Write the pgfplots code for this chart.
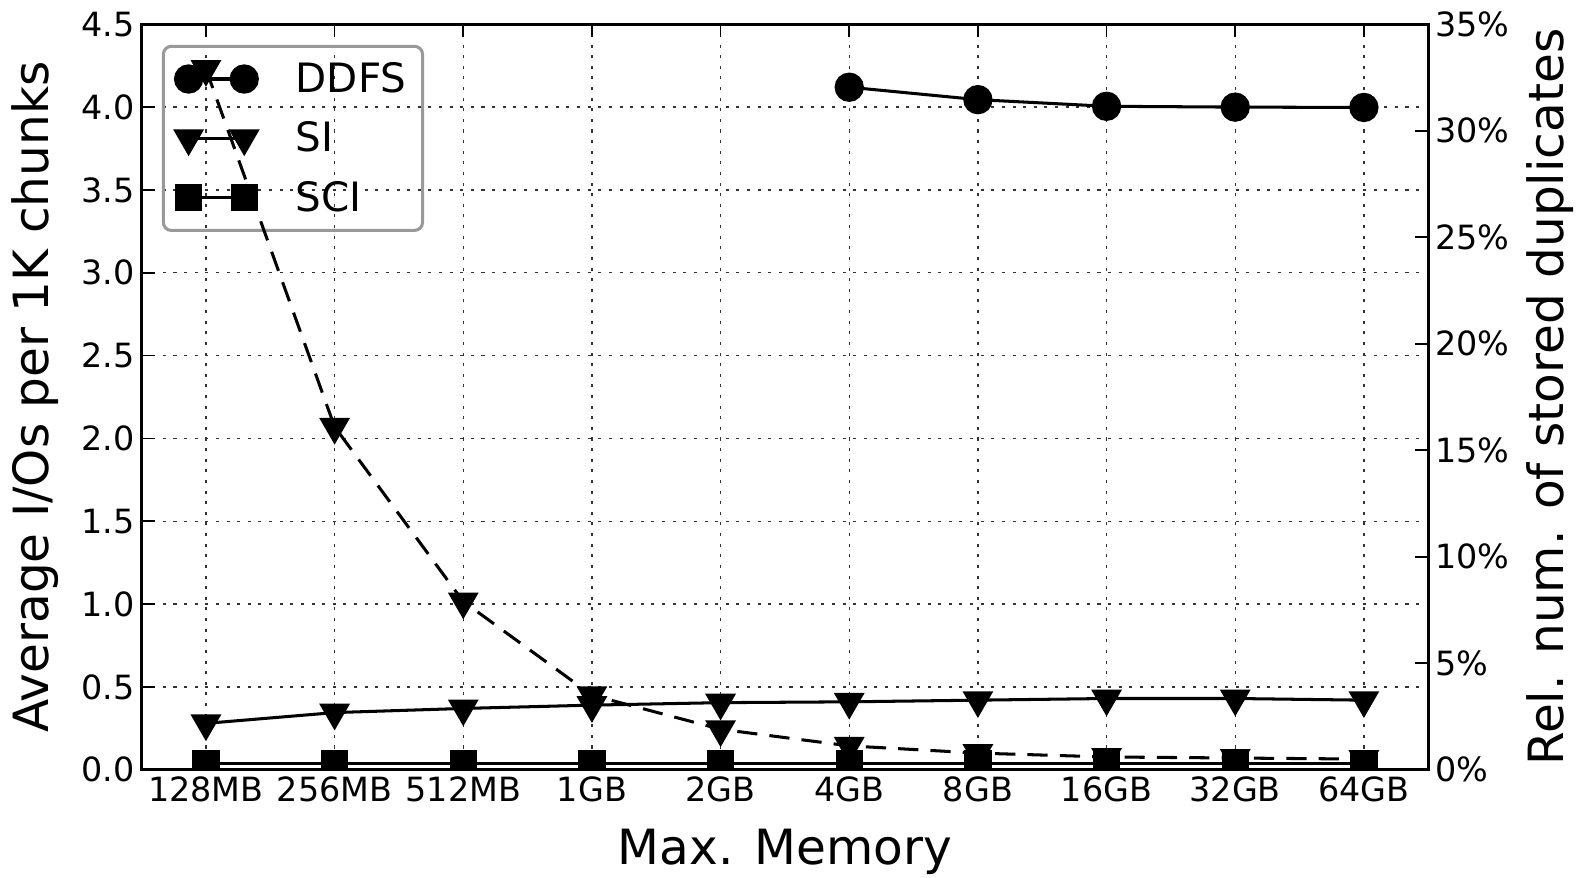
\documentclass[border=0pt]{standalone}
\usepackage{fontspec}
\setmainfont{DejaVu Sans}
\usepackage{pgfplots}
\pgfplotsset{compat=1.18}
\begin{document}
\begin{tikzpicture}
\useasboundingbox (-70pt,-53.5pt) rectangle (714pt,380.5pt);
\pgfplotsset{
  every axis/.append style={
    scale only axis, width=636pt, height=368.5pt,
    xmin=-0.5, xmax=9.5,
    /pgf/number format/assume math mode=true,
    tick label style={font=\fontsize{16.5}{19}\selectfont},
    label style={font=\fontsize{24}{28}\selectfont},
    axis line style={line width=1.5pt},
    tick style={line width=0.8pt, black},
    major tick length=6.5pt,
    tick align=inside,
  },
}
\begin{axis}[
  ymin=0, ymax=4.5, ytick={0,0.5,...,4.5},
  yticklabel style={/pgf/number format/.cd, fixed, fixed zerofill, precision=1},
  xtick={0,...,9},
  xticklabels={128MB,256MB,512MB,1GB,2GB,4GB,8GB,16GB,32GB,64GB},
  ytick pos=left,
  grid=major,
  grid style={dash pattern=on 1.5pt off 3.75pt, line width=0.7pt, black!80},
  xlabel={Max. Memory},
  ylabel={Average I/Os per 1K chunks},
  xlabel style={at={(axis description cs:0.5,-0.11)}, anchor=center},
  ylabel style={at={(axis description cs:-0.0825,0.5)}, anchor=center},
  clip marker paths=true,
  legend cell align=left,
  legend style={at={(axis description cs:0.0157,0.9725)}, anchor=north west,
    draw=gray!80, line width=1.5pt, rounded corners=4pt, fill=none,
    font=\fontsize{20}{24}\selectfont, row sep=9pt, column sep=17pt,
    inner xsep=6pt, inner ysep=6pt},
  legend image code/.code={\draw[#1] plot coordinates {(0pt,0pt)(27.5pt,0pt)};},
]
\addplot[black, line width=1.5pt, mark=*, mark size=6.5pt, mark options={solid}]
  coordinates {(5,4.12)(6,4.045)(7,4.005)(8,4.0)(9,3.998)};
\addlegendentry{DDFS}
\addplot[black, line width=1.5pt, mark=triangle*, mark size=7.3pt, mark options={solid, rotate=180}]
  coordinates {(0,0.28)(1,0.345)(2,0.37)(3,0.39)(4,0.405)(5,0.41)(6,0.42)(7,0.43)(8,0.43)(9,0.42)};
\addlegendentry{SI}
\addplot[black, line width=1.5pt, mark=square*, mark size=6pt, mark options={solid}]
  coordinates {(0,0.035)(1,0.035)(2,0.035)(3,0.035)(4,0.035)(5,0.035)(6,0.035)(7,0.035)(8,0.035)(9,0.035)};
\addlegendentry{SCI}
\end{axis}
\begin{axis}[
  ymin=0, ymax=35, ytick={0,5,...,35},
  yticklabel={\pgfmathprintnumber{\tick}\%},
  axis y line*=right, axis x line=none,
  ylabel={Rel. num. of stored duplicates},
  ylabel style={at={(axis description cs:1.095,0.5)}, anchor=center, rotate=0},
  clip marker paths=true,
]
\addplot[black, line width=1.5pt, dash pattern=on 10pt off 6pt, mark=triangle*, mark size=7.3pt, mark options={solid, rotate=180}]
  coordinates {(0,32.9)(1,16.1)(2,7.9)(3,3.5)(4,1.9)(5,1.12)(6,0.78)(7,0.6)(8,0.55)(9,0.5)};
\addplot[black, line width=1.5pt, dash pattern=on 10pt off 6pt, mark=square*, mark size=6pt, mark options={solid}]
  coordinates {(0,0)(1,0)(2,0)(3,0)(4,0)(5,0)(6,0)(7,0)(8,0)(9,0)};
\end{axis}
\end{tikzpicture}
\end{document}
